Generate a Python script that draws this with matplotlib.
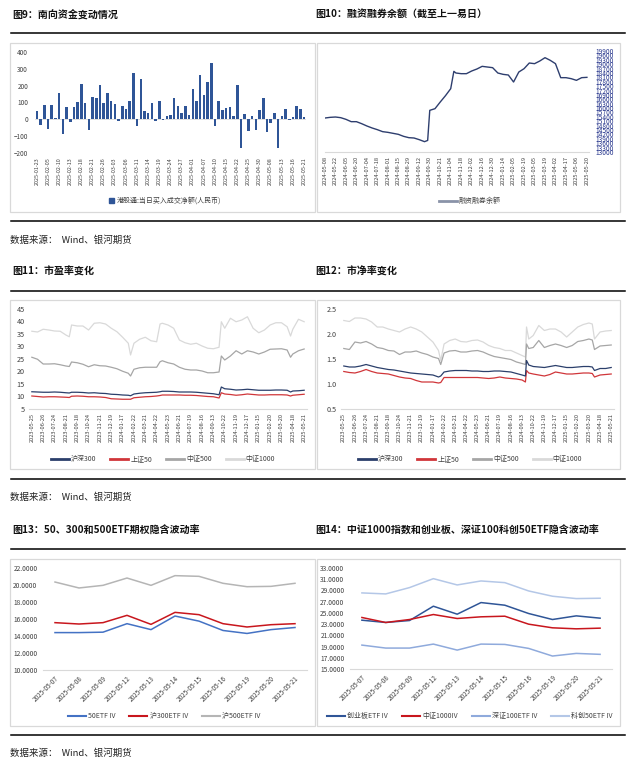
import matplotlib
matplotlib.use('Agg')
import matplotlib.pyplot as plt
from matplotlib.patches import Rectangle
from matplotlib.lines import Line2D
from matplotlib.ticker import FormatStrFormatter

plt.rcParams['font.family'] = ['Noto Sans CJK SC', 'DejaVu Sans']

# ---------------- data ----------------
# 图9 南向资金 (亿元)
sb_values = [50, -35, 83, -55, 83, 10, 154, -88, 71, -14,
             71, 102, 207, 97, -63, 130, 126, 203, 97, 156,
             110, 91, -12, 79, 59, 110, 276, -39, 240, 49,
             39, 97, -12, 106, -3, 20, 24, 128, 77, 35,
             77, 28, 183, 108, 266, 144, 221, 335, -39, 110,
             55, 69, 73, 20, 201, -173, 30, -71, 20, -63,
             55, 124, -77, -24, 36, -173, 20, 61, -3, 12,
             79, 59, 12]
sb_labels = ['2025-01-23', '2025-02-05', '2025-02-10', '2025-02-13', '2025-02-18',
             '2025-02-21', '2025-02-26', '2025-03-03', '2025-03-06', '2025-03-11',
             '2025-03-14', '2025-03-19', '2025-03-24', '2025-03-27', '2025-04-01',
             '2025-04-07', '2025-04-10', '2025-04-15', '2025-04-22', '2025-04-25',
             '2025-04-30', '2025-05-08', '2025-05-13', '2025-05-16', '2025-05-21']

# 图10 融资融券余额 (trading-day index, 亿元)
margin_day = [0, 5, 10, 15, 20, 25, 30, 35, 40, 45, 50, 55, 60, 65, 70, 75, 80, 85, 90, 95,
              98, 100, 105, 110, 115, 120, 123, 125, 130, 135, 140, 145, 150, 155, 160, 165,
              170, 175, 180, 185, 190, 195, 200, 205, 210, 215, 220, 225, 230, 235, 240, 245, 250]
margin_val = [15322, 15368, 15390, 15345, 15231, 15072, 15072, 14935, 14776, 14640,
              14525, 14390, 14343, 14275, 14207, 14070, 13979, 13956, 13842, 13706,
              13790, 15846, 15960, 16415, 16848, 17326, 18510, 18396, 18351, 18351,
              18533, 18670, 18852, 18806, 18761, 18396, 18305, 18260, 17782, 18465,
              18692, 19080, 19034, 19216, 19444, 19262, 19034, 18078, 18078, 18010,
              17896, 18078, 18100]
margin_labels = ['2024-05-08', '2024-05-22', '2024-06-05', '2024-06-20', '2024-07-04',
                 '2024-07-18', '2024-08-01', '2024-08-15', '2024-08-29', '2024-09-12',
                 '2024-09-30', '2024-10-21', '2024-11-04', '2024-11-18', '2024-12-02',
                 '2024-12-16', '2024-12-30', '2025-01-14', '2025-02-05', '2025-02-19',
                 '2025-03-05', '2025-03-19', '2025-04-02', '2025-04-17', '2025-05-06',
                 '2025-05-20']

# 图11/12 shared date labels (every 20 trading days)
val_labels = ['2023-05-25', '2023-06-26', '2023-07-24', '2023-08-21', '2023-09-18',
              '2023-10-24', '2023-11-21', '2023-12-19', '2024-01-17', '2024-02-22',
              '2024-03-21', '2024-04-22', '2024-05-23', '2024-06-21', '2024-07-19',
              '2024-08-16', '2024-09-13', '2024-10-22', '2024-11-19', '2024-12-17',
              '2025-01-15', '2025-02-20', '2025-03-20', '2025-04-18', '2025-05-21']

# 图11 市盈率
pe_day = [0, 10, 20, 30, 40, 50, 60, 66, 70, 80, 90, 100, 110, 120, 130, 140, 150, 160,
          170, 174, 180, 190, 200, 210, 220, 226, 230, 240, 250, 260, 270, 280, 290, 300,
          310, 320, 330, 334, 340, 350, 360, 370, 380, 390, 400, 410, 420, 430, 440, 450,
          456, 460, 470, 480]
pe_hs300 = [11.9, 11.8, 11.7, 11.7, 11.8, 11.7, 11.5, 11.4, 11.7, 11.7, 11.6, 11.4, 11.5,
            11.3, 11.2, 10.9, 10.8, 10.6, 10.5, 10.3, 11.0, 11.3, 11.5, 11.6, 11.7, 11.9,
            12.1, 12.1, 12.0, 11.8, 11.8, 11.8, 11.7, 11.5, 11.3, 11.1, 10.7, 13.8, 13.1,
            12.9, 12.6, 12.7, 12.9, 12.7, 12.5, 12.5, 12.5, 12.6, 12.6, 12.5, 11.8, 12.2,
            12.3, 12.5]
pe_sz50 = [10.2, 10.0, 9.8, 9.9, 9.9, 9.8, 9.7, 9.6, 10.1, 10.2, 10.1, 9.9, 9.9, 9.8, 9.6,
           9.1, 9.0, 8.9, 8.9, 8.9, 9.5, 9.7, 9.9, 10.0, 10.2, 10.4, 10.6, 10.6, 10.6, 10.6,
           10.5, 10.5, 10.4, 10.2, 10.0, 9.9, 9.4, 11.5, 11.0, 10.8, 10.5, 10.7, 11.0, 10.8,
           10.6, 10.6, 10.7, 10.7, 10.7, 10.6, 10.2, 10.5, 10.7, 10.9]
pe_zz500 = [25.7, 24.9, 23.0, 23.0, 23.1, 22.7, 22.2, 22.0, 23.8, 23.5, 22.9, 21.9, 22.7,
            22.3, 22.2, 21.7, 21.1, 20.1, 19.3, 18.2, 20.9, 21.5, 21.7, 21.7, 21.7, 23.9,
            24.3, 23.5, 23.0, 21.7, 20.9, 20.6, 20.6, 20.2, 19.5, 19.5, 19.8, 26.2, 24.6,
            26.2, 28.3, 27.0, 28.3, 27.8, 27.0, 27.8, 28.9, 29.0, 29.1, 28.6, 25.7, 27.0,
            28.3, 29.0]
pe_zz1000 = [36.1, 35.8, 36.9, 36.6, 36.2, 36.1, 34.6, 33.9, 38.6, 38.2, 38.2, 36.6, 39.3,
             39.5, 39.0, 37.3, 35.9, 33.7, 31.3, 26.6, 31.3, 32.9, 33.7, 32.3, 31.9, 39.0,
             39.3, 38.6, 37.3, 32.6, 31.5, 30.9, 31.3, 30.2, 29.3, 29.1, 29.7, 39.9, 37.3,
             41.3, 39.9, 40.6, 41.9, 37.3, 35.5, 36.6, 38.6, 39.5, 39.5, 37.9, 34.2, 36.9,
             40.9, 39.9]

# 图12 市净率
pb_day = [0, 10, 20, 30, 40, 50, 60, 70, 80, 90, 100, 110, 120, 130, 140, 150, 160, 170,
          174, 180, 190, 200, 210, 220, 230, 240, 250, 260, 270, 280, 290, 300, 310, 320,
          326, 328, 332, 340, 350, 360, 370, 380, 390, 400, 410, 420, 430, 440, 446, 450,
          460, 470, 480]
pb_hs300 = [1.36, 1.34, 1.34, 1.36, 1.39, 1.36, 1.33, 1.31, 1.29, 1.28, 1.26, 1.24, 1.22,
            1.21, 1.20, 1.19, 1.18, 1.14, 1.16, 1.24, 1.26, 1.27, 1.27, 1.27, 1.26, 1.26,
            1.25, 1.25, 1.26, 1.26, 1.25, 1.24, 1.21, 1.18, 1.16, 1.47, 1.38, 1.35, 1.34,
            1.33, 1.35, 1.37, 1.35, 1.33, 1.33, 1.34, 1.35, 1.35, 1.34, 1.27, 1.31, 1.31, 1.33]
pb_sz50 = [1.25, 1.23, 1.22, 1.25, 1.29, 1.25, 1.22, 1.21, 1.20, 1.17, 1.14, 1.12, 1.11,
           1.07, 1.04, 1.04, 1.04, 1.02, 1.03, 1.13, 1.13, 1.13, 1.13, 1.13, 1.13, 1.13,
           1.12, 1.11, 1.12, 1.14, 1.12, 1.11, 1.10, 1.08, 1.04, 1.27, 1.22, 1.20, 1.18,
           1.16, 1.19, 1.24, 1.22, 1.20, 1.20, 1.21, 1.22, 1.22, 1.21, 1.14, 1.18, 1.19, 1.20]
pb_zz500 = [1.71, 1.69, 1.84, 1.82, 1.85, 1.80, 1.73, 1.71, 1.67, 1.66, 1.59, 1.64, 1.64,
            1.66, 1.62, 1.59, 1.54, 1.51, 1.39, 1.62, 1.66, 1.67, 1.64, 1.64, 1.66, 1.67,
            1.64, 1.59, 1.55, 1.53, 1.51, 1.49, 1.44, 1.41, 1.39, 1.80, 1.71, 1.73, 1.87,
            1.73, 1.77, 1.80, 1.77, 1.73, 1.77, 1.85, 1.87, 1.90, 1.88, 1.69, 1.76, 1.77, 1.78]
pb_zz1000 = [2.27, 2.25, 2.32, 2.32, 2.30, 2.24, 2.14, 2.14, 2.10, 2.07, 2.04, 2.10, 2.14,
             2.10, 2.04, 1.94, 1.84, 1.67, 1.47, 1.80, 1.87, 1.90, 1.85, 1.84, 1.87, 1.88,
             1.84, 1.77, 1.73, 1.71, 1.67, 1.67, 1.62, 1.57, 1.54, 2.14, 1.90, 1.97, 2.17,
             2.07, 2.10, 2.10, 2.04, 1.94, 2.04, 2.14, 2.19, 2.22, 2.20, 1.90, 2.04, 2.06, 2.07]

# 图13/14 隐含波动率
iv_dates = ['2025-05-07', '2025-05-08', '2025-05-09', '2025-05-12', '2025-05-13', '2025-05-14',
            '2025-05-15', '2025-05-16', '2025-05-19', '2025-05-20', '2025-05-21']
iv_50etf = [14.40, 14.40, 14.45, 15.45, 14.75, 16.35, 15.75, 14.65, 14.30, 14.75, 15.00]
iv_300etf = [15.57, 15.41, 15.57, 16.43, 15.37, 16.78, 16.51, 15.45, 15.06, 15.33, 15.45]
iv_500etf = [20.35, 19.65, 19.96, 20.82, 19.96, 21.10, 21.02, 20.20, 19.80, 19.84, 20.20]
iv_cyb = [23.70, 23.29, 23.64, 26.19, 24.77, 26.84, 26.37, 24.89, 23.82, 24.47, 24.06]
iv_zz1000 = [24.18, 23.29, 23.82, 24.71, 24.00, 24.30, 24.41, 22.99, 22.34, 22.16, 22.28]
iv_sz100 = [19.26, 18.73, 18.73, 19.44, 18.37, 19.44, 19.38, 18.67, 17.31, 17.78, 17.61]
iv_kc50 = [28.56, 28.38, 29.51, 31.10, 29.98, 30.69, 30.39, 28.91, 27.97, 27.55, 27.61]

# ---------------- figure ----------------
W, H = 632, 766
fig = plt.figure(figsize=(W / 100, H / 100), dpi=100)


def fx(x):
    return x / W


def fy(y):
    return 1 - y / H


def axes_px(x0, y0, x1, y1):
    return fig.add_axes([fx(x0), fy(y1), (x1 - x0) / W, (y1 - y0) / H])


def clean(ax, bottom=True):
    for s in ax.spines.values():
        s.set_visible(False)
    if bottom:
        ax.spines['bottom'].set_visible(True)
        ax.spines['bottom'].set_color('#d9d9d9')
        ax.spines['bottom'].set_linewidth(0.8)
    ax.tick_params(length=0, labelsize=4.6, colors='#404040', pad=3)


def legend(ax, handles, labels, cx, cy, ncol, hl=2.6):
    ax.legend(handles, labels, loc='center', bbox_to_anchor=(fx(cx), fy(cy)),
              bbox_transform=fig.transFigure, ncol=ncol, frameon=False, fontsize=5,
              handlelength=hl, columnspacing=2.0, handletextpad=0.3,
              labelcolor='#404040')


# page furniture: titles, rules, frames, sources
titles = [(12, 14, '图9：南向资金变动情况'),
          (315, 14, '图10：融资融券余额（截至上一易日）'),
          (12, 272, '图11：市盈率变化'),
          (315, 272, '图12：市净率变化'),
          (12, 531, '图13：50、300和500ETF期权隐含波动率'),
          (315, 531, '图14：中证1000指数和创业板、深证100科创50ETF隐含波动率')]
for x, y, t in titles:
    fig.text(fx(x), fy(y), t, fontsize=7.2, fontweight='bold', va='center', color='#111111')

for y in [33, 221, 291, 479, 549, 735]:
    fig.add_artist(Line2D([fx(11), fx(625)], [fy(y), fy(y)], color='black', lw=1.1))

for y0, y1 in [(43, 212), (300, 469), (559, 726)]:
    for x0, x1 in [(10, 315), (317, 620)]:
        fig.add_artist(Rectangle((fx(x0), fy(y1)), (x1 - x0) / W, (y1 - y0) / H,
                                 transform=fig.transFigure, fill=False,
                                 edgecolor='#d9d9d9', lw=0.9))

for y in [240, 497, 753]:
    fig.text(fx(10), fy(y), '数据来源：  Wind、银河期货', fontsize=6.8, va='center', color='#222222')

# 图9
ax = axes_px(35, 52, 306, 153)
clean(ax, bottom=False)
x9 = list(range(len(sb_values)))
bars = ax.bar(x9, sb_values, width=0.68, color='#2f5597')
ax.axhline(0, color='#d9d9d9', lw=0.6, zorder=0)
ax.set_xlim(-0.5, len(sb_values) - 0.5)
ax.set_ylim(-200, 400)
ax.set_yticks(range(-200, 401, 100))
ax.set_xticks(x9[::3])
ax.set_xticklabels(sb_labels, rotation=90, fontsize=3.9)
ax.tick_params(axis='y', pad=5)
legend(ax, [Rectangle((0, 0), 1, 1, color='#2f5597')], ['港股通:当日买入成交净额(人民币)'],
       165, 201, 1, hl=0.7)

# 图10
ax = axes_px(325, 51, 589, 152)
clean(ax)
ax.plot(margin_day, margin_val, color='#2e3e6e', lw=1.0)
ax.set_xlim(0, 252)
ax.set_ylim(13000, 19900)
ax.yaxis.tick_right()
ax.set_yticks(range(13000, 19901, 300))
ax.tick_params(axis='y', labelsize=4.8, colors='#2b3a8f', pad=5)
ax.set_xticks(range(0, 251, 10))
ax.set_xticklabels(margin_labels, rotation=90, fontsize=4.1)
legend(ax, [Line2D([], [], color='#8a93a8', lw=2)], ['融资融券余额'], 470, 201, 1)

# 图11 / 图12
val_colors = ['#2b3f6b', '#d0363a', '#a6a6a6', '#d9d9d9']
val_names = ['沪深300', '上证50', '中证500', '中证1000']
for (x0, x1), days, series, lim, step, fmt, cx in [
        ((29, 307), pe_day, [pe_hs300, pe_sz50, pe_zz500, pe_zz1000], (5, 45), 5, '%d', 163),
        ((341, 614), pb_day, [pb_hs300, pb_sz50, pb_zz500, pb_zz1000], (0.5, 2.5), 0.5, '%.1f', 470)]:
    ax = axes_px(x0, 309, x1, 409)
    clean(ax)
    for s, c in list(zip(series, val_colors))[::-1]:
        ax.plot(days, s, color=c, lw=0.9)
    ax.set_xlim(-5, 485)
    ax.set_ylim(*lim)
    ticks = [lim[0] + i * step for i in range(int(round((lim[1] - lim[0]) / step)) + 1)]
    ax.set_yticks(ticks)
    ax.yaxis.set_major_formatter(FormatStrFormatter(fmt))
    ax.tick_params(axis='y', labelsize=5.2)
    ax.set_xticks(range(0, 481, 20))
    ax.set_xticklabels(val_labels, rotation=90, fontsize=4.1)
    hs = [Line2D([], [], color=c, lw=2) for c in val_colors]
    legend(ax, hs, val_names, cx, 459, 4)

# 图13
ax = axes_px(43, 568, 307, 670)
clean(ax)
xi = range(len(iv_dates))
for s, c in [(iv_50etf, '#4472c4'), (iv_300etf, '#c8161d'), (iv_500etf, '#b5b5b5')]:
    ax.plot(xi, s, color=c, lw=1.1)
ax.set_xlim(-0.5, len(iv_dates) - 0.5)
ax.set_ylim(10, 22)
ax.set_yticks(range(10, 23, 2))
ax.yaxis.set_major_formatter(FormatStrFormatter('%.4f'))
ax.tick_params(axis='y', labelsize=4.8, pad=4)
ax.set_xticks(list(xi))
ax.set_xticklabels(iv_dates, rotation=45, ha='right', rotation_mode='anchor', fontsize=4.6)
hs = [Line2D([], [], color=c, lw=1.5) for c in ['#4472c4', '#c8161d', '#b5b5b5']]
legend(ax, hs, ['50ETF IV', '沪300ETF IV', '沪500ETF IV'], 164, 716, 3)

# 图14
ax = axes_px(350, 568, 612, 669)
clean(ax)
iv14 = [(iv_cyb, '#2f5597'), (iv_zz1000, '#c8161d'), (iv_sz100, '#8faadc'), (iv_kc50, '#b4c7e7')]
for s, c in iv14:
    ax.plot(xi, s, color=c, lw=1.1)
ax.set_xlim(-0.5, len(iv_dates) - 0.5)
ax.set_ylim(15, 33)
ax.set_yticks(range(15, 34, 2))
ax.yaxis.set_major_formatter(FormatStrFormatter('%.4f'))
ax.tick_params(axis='y', labelsize=4.8, pad=4)
ax.set_xticks(list(xi))
ax.set_xticklabels(iv_dates, rotation=45, ha='right', rotation_mode='anchor', fontsize=4.6)
hs = [Line2D([], [], color=c, lw=1.5) for _, c in iv14]
legend(ax, hs, ['创业板ETF IV', '中证1000IV', '深证100ETF IV', '科创50ETF IV'], 470, 716, 4)

fig.savefig('out.png', dpi=100)
